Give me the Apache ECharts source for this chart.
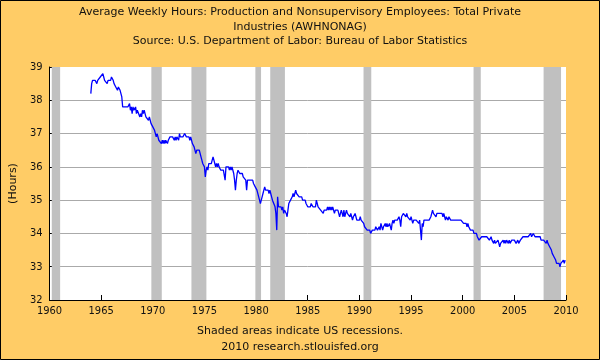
<!DOCTYPE html>
<html>
<head>
<meta charset="utf-8">
<script src="https://cdn.jsdelivr.net/npm/echarts@6/dist/echarts.min.js"></script>
<style>
html,body{margin:0;padding:0;background:#FFCC66;}
#chart{width:600px;height:360px;}
</style>
</head>
<body>
<div id="chart"></div>
<script>
// Monthly average weekly hours, starting January 1964
const startYear = 1964;
const hours1960s = [
  38.2, 38.5, 38.6, 38.6, 38.6, 38.6, 38.6, 38.5, 38.6, 38.6, 38.6, 38.7,
  38.7, 38.7, 38.8, 38.7, 38.6, 38.6, 38.6, 38.5, 38.6, 38.6, 38.6, 38.6,
  38.7, 38.7, 38.6, 38.5, 38.5, 38.4, 38.4, 38.3, 38.4, 38.4, 38.3, 38.2,
  38.1, 37.8, 37.8, 37.8, 37.8, 37.8, 37.8, 37.8, 37.8, 37.9, 37.7, 37.8,
  37.6, 37.8, 37.7, 37.7, 37.8, 37.6, 37.7, 37.7, 37.7, 37.5, 37.6, 37.5,
  37.7, 37.6, 37.7, 37.6, 37.5, 37.5, 37.5, 37.4, 37.5, 37.4, 37.3, 37.3
];
const hours1970s = [
  37.2, 37.2, 37.1, 37.0, 36.9, 37.0, 36.9, 36.8, 36.8, 36.8, 36.7, 36.8,
  36.7, 36.8, 36.7, 36.8, 36.8, 36.7, 36.8, 36.8, 36.9, 36.9, 36.9, 36.9,
  36.9, 36.8, 36.9, 36.8, 36.9, 36.9, 36.8, 37.0, 36.9, 36.9, 36.9, 36.9,
  36.9, 37.0, 37.0, 36.9, 36.9, 36.9, 36.9, 36.8, 36.9, 36.8, 36.7, 36.7,
  36.6, 36.6, 36.4, 36.5, 36.5, 36.5, 36.5, 36.5, 36.3, 36.2, 36.1, 36.1,
  36.0, 35.7, 35.9, 36.0, 35.9, 36.1, 36.1, 36.1, 36.1, 36.2, 36.3, 36.2,
  36.1, 36.0, 36.1, 36.0, 36.1, 36.0, 36.0, 35.9, 35.9, 35.9, 35.9, 35.9,
  35.6, 36.0, 36.0, 36.0, 36.0, 35.9, 36.0, 35.9, 36.0, 36.0, 35.8, 35.6,
  35.3, 35.6, 35.8, 35.9, 35.9, 35.8, 35.8, 35.8, 35.8, 35.7, 35.7, 35.7,
  35.6, 35.3, 35.6, 35.6, 35.6, 35.6, 35.6, 35.6, 35.6, 35.5, 35.5, 35.4
];
const hours1980s = [
  35.4, 35.3, 35.3, 35.1, 35.0, 34.9, 35.0, 35.1, 35.2, 35.3, 35.4, 35.3,
  35.3, 35.3, 35.3, 35.2, 35.3, 35.2, 35.1, 35.0, 35.0, 35.0, 34.8, 34.6,
  34.1, 35.1, 34.8, 34.8, 34.8, 34.8, 34.7, 34.8, 34.6, 34.7, 34.7, 34.6,
  34.5, 34.7, 34.9, 34.9, 35.0, 35.0, 35.1, 35.2, 35.1, 35.2, 35.3, 35.2,
  35.2, 35.2, 35.1, 35.1, 35.1, 35.1, 35.0, 35.0, 35.0, 35.0, 34.9, 34.9,
  34.8, 34.8, 34.8, 34.8, 34.9, 34.9, 34.8, 34.8, 34.8, 34.8, 35.0, 34.9,
  34.8, 34.8, 34.8, 34.7, 34.7, 34.7, 34.6, 34.7, 34.7, 34.7, 34.7, 34.8,
  34.7, 34.8, 34.7, 34.8, 34.7, 34.8, 34.7, 34.6, 34.7, 34.7, 34.7, 34.7,
  34.6, 34.5, 34.6, 34.7, 34.6, 34.5, 34.7, 34.5, 34.6, 34.7, 34.6, 34.6,
  34.6, 34.5, 34.6, 34.5, 34.4, 34.5, 34.5, 34.6, 34.5, 34.4, 34.4, 34.4
];
const hours1990s = [
  34.4, 34.5, 34.4, 34.4, 34.4, 34.3, 34.2, 34.2, 34.2, 34.1, 34.1, 34.1,
  34.1, 34.0, 34.0, 34.1, 34.1, 34.1, 34.1, 34.2, 34.2, 34.1, 34.1, 34.2,
  34.1, 34.3, 34.2, 34.1, 34.2, 34.2, 34.3, 34.2, 34.3, 34.2, 34.2, 34.3,
  34.3, 34.1, 34.3, 34.4, 34.3, 34.4, 34.4, 34.4, 34.4, 34.4, 34.5, 34.4,
  34.2, 34.5, 34.5, 34.6, 34.6, 34.6, 34.5, 34.6, 34.5, 34.5, 34.5, 34.4,
  34.5, 34.4, 34.3, 34.4, 34.4, 34.4, 34.4, 34.4, 34.4, 34.3, 34.4, 34.4,
  33.8, 34.3, 34.2, 34.4, 34.4, 34.4, 34.4, 34.4, 34.4, 34.4, 34.4, 34.5,
  34.6, 34.7, 34.6, 34.6, 34.6, 34.5, 34.6, 34.6, 34.6, 34.6, 34.6, 34.6,
  34.6, 34.5, 34.6, 34.5, 34.4, 34.5, 34.5, 34.4, 34.5, 34.5, 34.4, 34.4,
  34.4, 34.4, 34.4, 34.4, 34.4, 34.4, 34.4, 34.4, 34.4, 34.4, 34.4, 34.4
];
const hours2000s = [
  34.4, 34.3, 34.3, 34.3, 34.3, 34.2, 34.3, 34.2, 34.2, 34.1, 34.1, 34.1,
  34.1, 34.0, 34.0, 34.0, 34.0, 33.9, 33.9, 33.8, 33.8, 33.8, 33.9, 33.9,
  33.9, 33.9, 33.9, 33.9, 33.9, 33.9, 33.9, 33.8, 33.8, 33.9, 33.8, 33.8,
  33.7, 33.8, 33.7, 33.7, 33.7, 33.8, 33.7, 33.6, 33.7, 33.7, 33.7, 33.8,
  33.7, 33.8, 33.7, 33.8, 33.8, 33.7, 33.8, 33.7, 33.7, 33.8, 33.8, 33.8,
  33.8, 33.8, 33.7, 33.7, 33.8, 33.7, 33.7, 33.8, 33.8, 33.8, 33.9, 33.9,
  33.9, 33.9, 33.9, 33.9, 33.9, 33.9, 33.9, 34.0, 33.9, 33.9, 34.0, 34.0,
  33.9, 33.9, 33.9, 33.9, 33.9, 33.9, 33.9, 33.8, 33.8, 33.8, 33.8, 33.8,
  33.8, 33.7, 33.8, 33.7, 33.7, 33.6, 33.6, 33.5, 33.4, 33.4, 33.3, 33.3,
  33.2, 33.1, 33.1, 33.1, 33.1, 33.0, 33.1, 33.1, 33.1, 33.2, 33.1, 33.2
];
// Recession bands (decimal years, as shaded in the picture)
const recessionStarts = [1960.22, 1969.86, 1973.74, 1979.93, 1981.37, 1990.40, 2001.05, 2007.83];
const recessionEnds   = [1961.03, 1970.87, 1975.19, 1980.48, 1982.79, 1991.15, 2001.75, 2009.52];
const xTicks = [1960, 1965, 1970, 1975, 1980, 1985, 1990, 1995, 2000, 2005, 2010];
const yTicks = [32, 33, 34, 35, 36, 37, 38, 39];
const titleLines = [
  'Average Weekly Hours: Production and Nonsupervisory Employees: Total Private',
  'Industries (AWHNONAG)',
  'Source: U.S. Department of Labor: Bureau of Labor Statistics'
];
const footerLines = ['Shaded areas indicate US recessions.', '2010 research.stlouisfed.org'];

const allHours = [].concat(hours1960s, hours1970s, hours1980s, hours1990s, hours2000s);
const lineData = allHours.map((v, i) => [startYear + i / 12, v]);
const bands = recessionStarts.map((s, i) => [{ xAxis: s }, { xAxis: recessionEnds[i] }]);

const FONT = 'DejaVu Sans, sans-serif';
const TICKFONT = 'DejaVu Sans Condensed, DejaVu Sans, sans-serif';
const textY = { title: [12, 27, 41], footer: [331, 347] };
const makeText = (txt, y) => ({
  type: 'text', silent: true, z: 50,
  style: { text: txt, x: 300, y: y, align: 'center', verticalAlign: 'middle',
           fontFamily: FONT, fontSize: 11, fill: '#111' }
});

const chart = echarts.init(document.getElementById('chart'), null, { renderer: 'canvas' });
chart.setOption({
  backgroundColor: '#FFCC66',
  animation: false,
  grid: { left: 46, right: 34, top: 67, bottom: 60, show: true, backgroundColor: '#ffffff', borderWidth: 0 },
  xAxis: {
    type: 'value', min: xTicks[0], max: xTicks[xTicks.length - 1], interval: 5,
    axisLine: { show: true, onZero: false, lineStyle: { color: '#000', width: 1 } },
    axisTick: { show: true, inside: true, length: 5, lineStyle: { color: '#000' } },
    splitLine: { show: false },
    axisLabel: { formatter: v => String(v), fontFamily: TICKFONT, fontSize: 11, color: '#111', margin: 6 }
  },
  yAxis: {
    type: 'value', min: yTicks[0], max: yTicks[yTicks.length - 1], interval: 1,
    name: '(Hours)', nameLocation: 'middle', nameGap: 27, nameRotate: 90,
    nameTextStyle: { fontFamily: FONT, fontSize: 11, color: '#111' },
    axisLine: { show: true, onZero: false, lineStyle: { color: '#000', width: 1 } },
    axisTick: { show: true, inside: true, length: 5, lineStyle: { color: '#000' } },
    splitLine: { show: true, showMaxLine: false, lineStyle: { color: '#aaaaaa', width: 1 } },
    axisLabel: { fontFamily: TICKFONT, fontSize: 11, color: '#111', margin: 7 }
  },
  series: [
    {
      type: 'line', data: [], z: 1, silent: true,
      markArea: { silent: true, itemStyle: { color: '#c0c0c0', opacity: 1 }, data: bands }
    },
    {
      type: 'line', data: lineData, z: 3, showSymbol: false, symbol: 'none',
      lineStyle: { color: '#0000ff', width: 1.3 }
    }
  ],
  graphic: [
    ...titleLines.map((t, i) => makeText(t, textY.title[i])),
    ...footerLines.map((t, i) => makeText(t, textY.footer[i])),
    {
      type: 'rect', z: 100, silent: true,
      shape: { x: 0.5, y: 0.5, width: 599, height: 359 },
      style: { fill: 'none', stroke: '#000', lineWidth: 1 }
    }
  ]
});
</script>
</body>
</html>
